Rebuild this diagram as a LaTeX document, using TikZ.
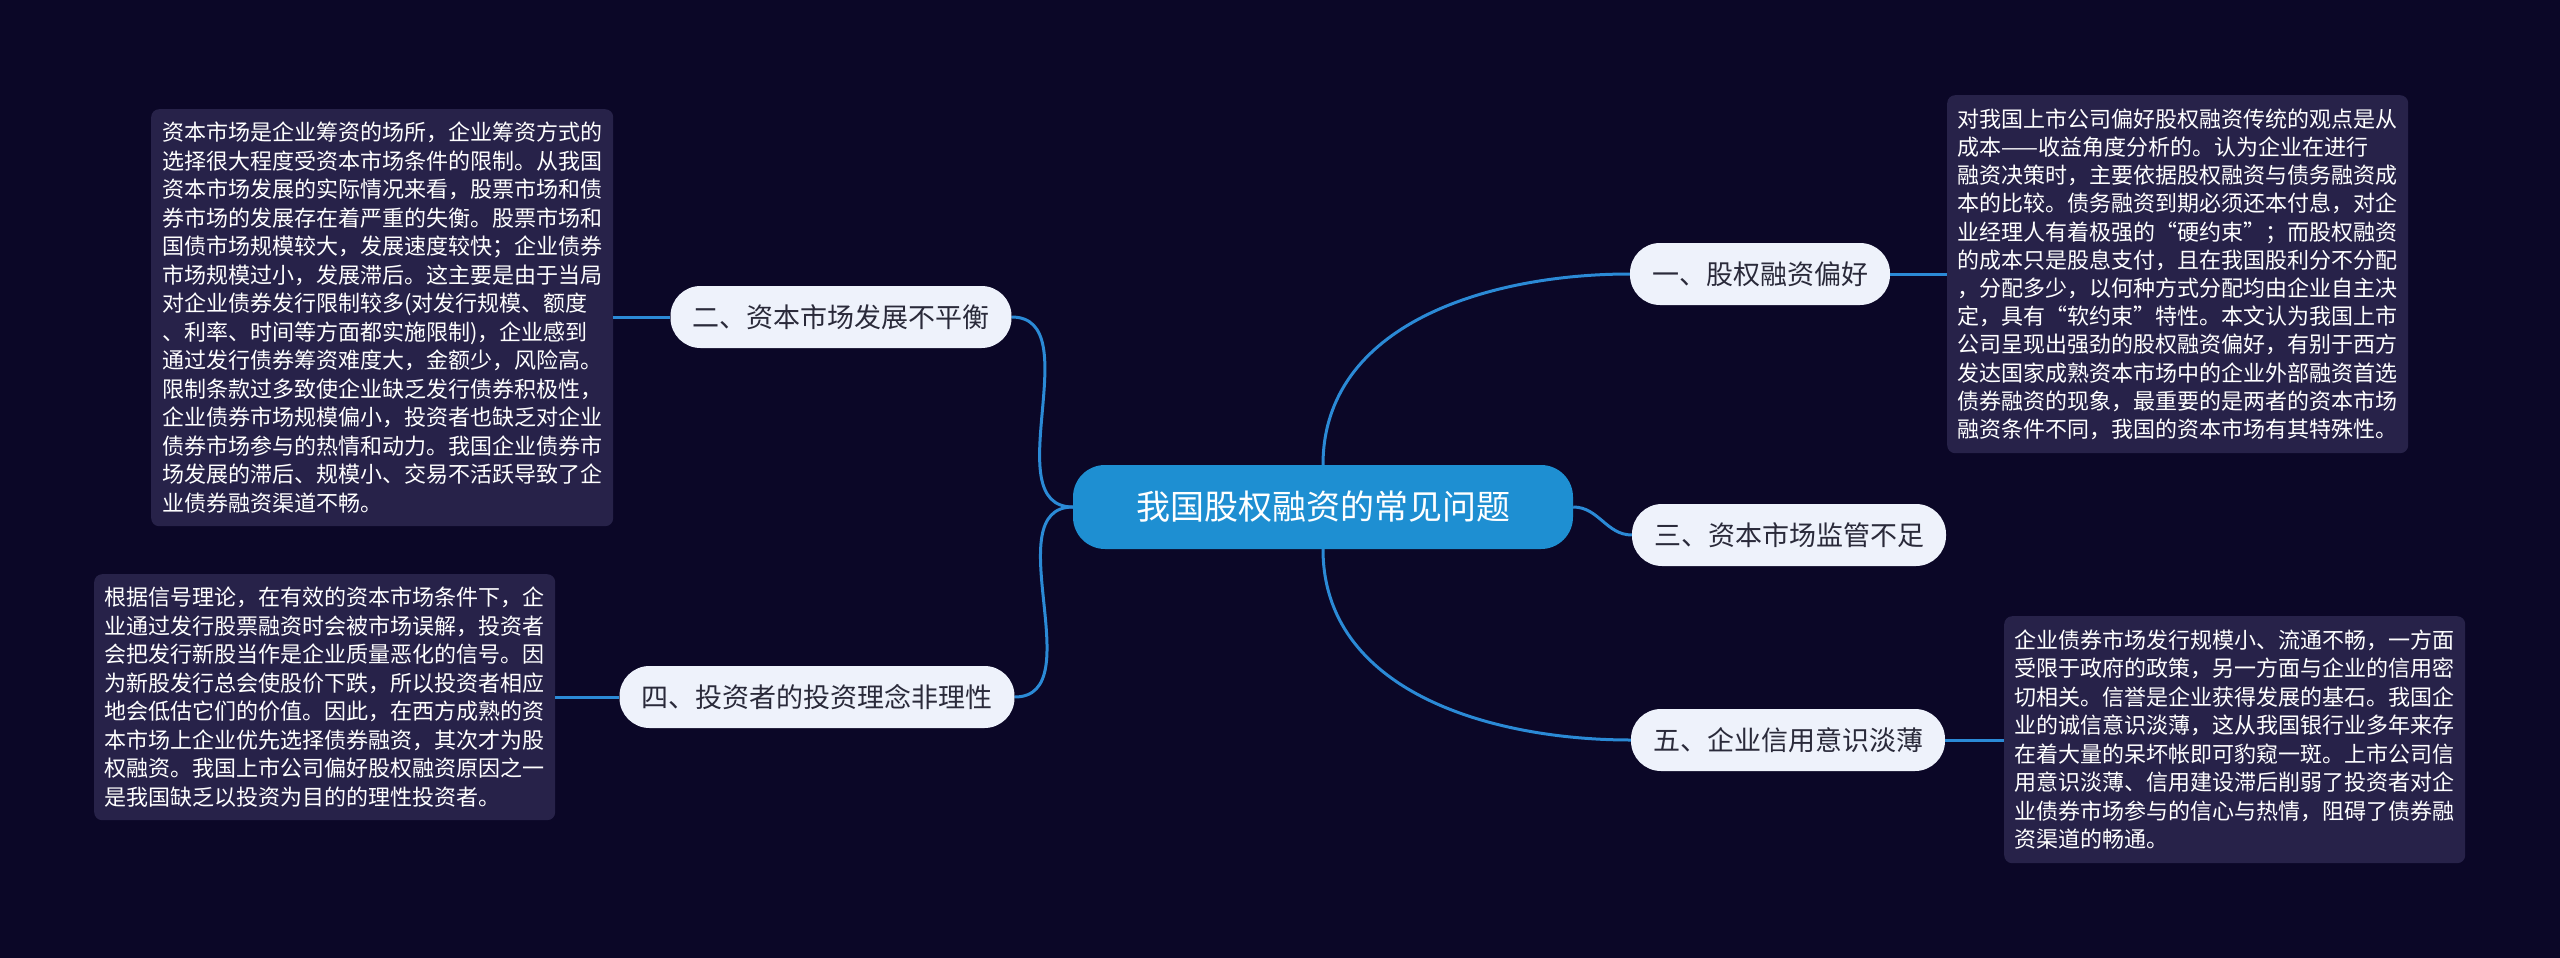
\documentclass[tikz,border=0pt]{standalone}
\usepackage{fontspec}
\setmainfont{Noto Sans CJK SC}
\begin{document}
\begin{tikzpicture}[x=1pt,y=-1pt,
  every node/.style={font=\fontsize{22}{28.5}\selectfont},
  branch/.style={fill=nodebg,text=nodefg,rounded corners=30pt,minimum height=62pt,inner xsep=22pt,font=\fontsize{27}{32}\selectfont},
  desc/.style={fill=boxbg,text=white,rounded corners=8pt,align=left,anchor=north west,inner xsep=10pt,inner ysep=8pt},
  link/.style={draw=linec,line width=3pt}]
\definecolor{bg}{HTML}{0B0727}
\definecolor{nodebg}{HTML}{EEF2FB}
\definecolor{nodefg}{HTML}{2A2A3A}
\definecolor{boxbg}{HTML}{272249}
\definecolor{linec}{HTML}{2B8AD6}
\definecolor{central}{HTML}{1E8FD2}
\fill[bg] (0,0) rectangle (2560,958);
\useasboundingbox (0,0) rectangle (2560,958);

\node[fill=central,text=white,rounded corners=32pt,minimum width=500pt,minimum height=84pt,font=\fontsize{34}{40}\selectfont] (c) at (1323,507) {我国股权融资的常见问题};

\node[branch] (b2) at (841,317) {二、资本市场发展不平衡};
\node[branch] (b1) at (1760,274) {一、股权融资偏好};
\node[branch] (b3) at (1789,535) {三、资本市场监管不足};
\node[branch] (b4) at (817,697) {四、投资者的投资理念非理性};
\node[branch] (b5) at (1788,740) {五、企业信用意识淡薄};

\node[desc,minimum width=462pt,minimum height=417pt] (d2) at (151,109) {资本市场是企业筹资的场所，企业筹资方式的\\选择很大程度受资本市场条件的限制。从我国\\资本市场发展的实际情况来看，股票市场和债\\券市场的发展存在着严重的失衡。股票市场和\\国债市场规模较大，发展速度较快；企业债券\\市场规模过小，发展滞后。这主要是由于当局\\对企业债券发行限制较多(对发行规模、额度\\、利率、时间等方面都实施限制)，企业感到\\通过发行债券筹资难度大，金额少，风险高。\\限制条款过多致使企业缺乏发行债券积极性，\\企业债券市场规模偏小，投资者也缺乏对企业\\债券市场参与的热情和动力。我国企业债券市\\场发展的滞后、规模小、交易不活跃导致了企\\业债券融资渠道不畅。};
\node[desc,minimum width=461pt,minimum height=358pt,font=\fontsize{22}{28.2}\selectfont] (d1) at (1947,95) {对我国上市公司偏好股权融资传统的观点是从\\成本——收益角度分析的。认为企业在进行\\融资决策时，主要依据股权融资与债务融资成\\本的比较。债务融资到期必须还本付息，对企\\业经理人有着极强的“硬约束”；而股权融资\\的成本只是股息支付，且在我国股利分不分配\\，分配多少，以何种方式分配均由企业自主决\\定，具有“软约束”特性。本文认为我国上市\\公司呈现出强劲的股权融资偏好，有别于西方\\发达国家成熟资本市场中的企业外部融资首选\\债券融资的现象，最重要的是两者的资本市场\\融资条件不同，我国的资本市场有其特殊性。};
\node[desc,minimum width=461pt,minimum height=246pt] (d4) at (94,574) {根据信号理论，在有效的资本市场条件下，企\\业通过发行股票融资时会被市场误解，投资者\\会把发行新股当作是企业质量恶化的信号。因\\为新股发行总会使股价下跌，所以投资者相应\\地会低估它们的价值。因此，在西方成熟的资\\本市场上企业优先选择债券融资，其次才为股\\权融资。我国上市公司偏好股权融资原因之一\\是我国缺乏以投资为目的的理性投资者。};
\node[desc,minimum width=461pt,minimum height=247pt] (d5) at (2004,616) {企业债券市场发行规模小、流通不畅，一方面\\受限于政府的政策，另一方面与企业的信用密\\切相关。信誉是企业获得发展的基石。我国企\\业的诚信意识淡薄，这从我国银行业多年来存\\在着大量的呆坏帐即可豹窥一斑。上市公司信\\用意识淡薄、信用建设滞后削弱了投资者对企\\业债券市场参与的信心与热情，阻碍了债券融\\资渠道的畅通。};

\begin{scope}[on background layer/.style={}]
\end{scope}
\path[link] (c.north) to[out=90,in=180] (b1.west);
\path[link] (c.east) to[out=0,in=180] (b3.west);
\path[link] (c.south) to[out=-90,in=180] (b5.west);
\path[link] (c.west) to[out=180,in=0] (b2.east);
\path[link] (c.west) to[out=180,in=0] (b4.east);
\path[link] (b2.west) -- (d2.east |- b2.west);
\path[link] (b1.east) -- (d1.west |- b1.east);
\path[link] (b4.west) -- (d4.east |- b4.west);
\path[link] (b5.east) -- (d5.west |- b5.east);
\end{tikzpicture}
\end{document}
